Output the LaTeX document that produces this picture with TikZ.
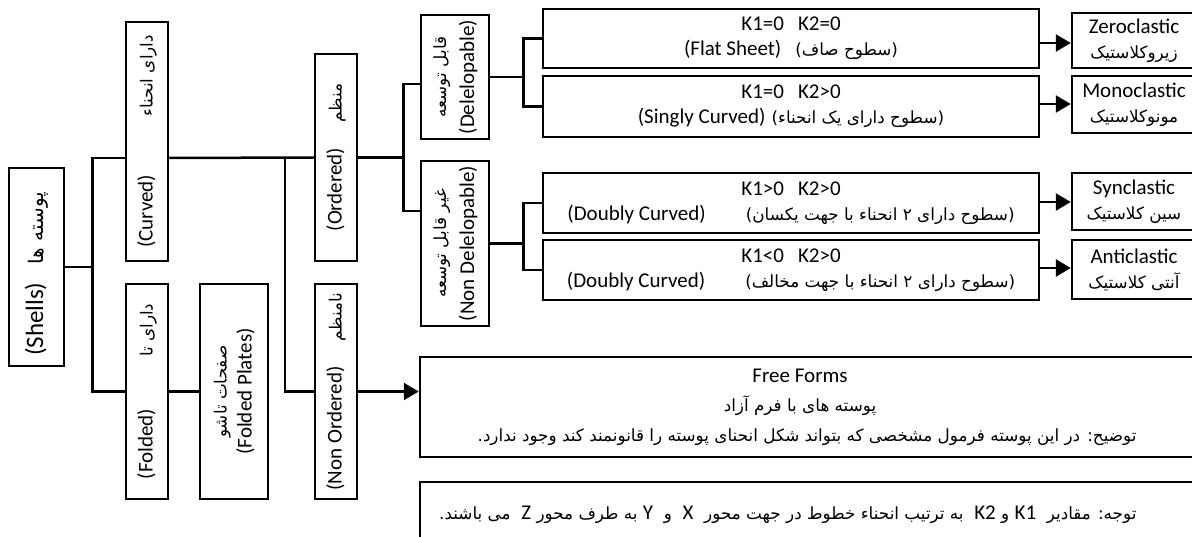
\documentclass[tikz,border=0pt]{standalone}
\usepackage{fontspec}
\setmainfont{Carlito}
\newfontfamily\persianfont[Script=Arabic,Scale=0.8]{DejaVu Sans}
\TeXXeTstate=1
\usetikzlibrary{arrows.meta}
\newcommand{\fa}[1]{{\persianfont\beginR #1\endR}}
\newcommand{\lr}[1]{{\rmfamily\beginL #1\endL}}
\tikzset{
  box/.style={draw, line width=2.5pt, inner sep=0pt, align=center},
  link/.style={line width=2.5pt},
  arr/.style={line width=2.5pt, -{Triangle[length=15pt,width=17pt]}},
}

\begin{document}
\begin{tikzpicture}[x=1pt, y=-1pt, font=\fontsize{21}{25}\selectfont]
	\useasboundingbox (0,0) rectangle (1192,537);
	\fill[white] (0,0) rectangle (1192,537);
	\clip (0,0) rectangle (1192,537);

	\node[box, minimum width=55, minimum height=198, font=\fontsize{25}{28}\selectfont] (shells) at (36.5,267) {\rotatebox{90}{(Shells)\hspace{18pt}\fa{پوسته ها}\hspace{14pt}}};
	\node[box, minimum width=42, minimum height=239] (curved) at (147,141.5) {\rotatebox{90}{(Curved)\hspace{58pt}\fa{دارای انحناء}}};
	\node[box, minimum width=42, minimum height=215] (folded) at (147,391.5) {\rotatebox{90}{(Folded)\hspace{52pt}\fa{دارای تا}}};
	\node[box, minimum width=68, minimum height=215] (plates) at (234,391.5) {\rotatebox{90}{\begin{tabular}{@{}c@{}}\fa{صفحات تاشو}\\(Folded Plates)\end{tabular}}};
	\node[box, minimum width=42, minimum height=207] (ordered) at (336,157.5) {\rotatebox{90}{(Ordered)\hspace{25pt}\fa{منظم}}};
	\node[box, minimum width=42, minimum height=215] (nonord) at (336,391.5) {\rotatebox{90}{(Non Ordered)\hspace{25pt}\fa{نامنظم}}};
	\node[box, minimum width=68, minimum height=124] (devel) at (455,77) {\rotatebox{90}{\begin{tabular}{@{}c@{}}\fa{قابل توسعه}\\[3pt](Delelopable)\end{tabular}}};
	\node[box, minimum width=68, minimum height=165] (nondev) at (455,243.5) {\rotatebox{90}{\begin{tabular}{@{}c@{}}\fa{غیر قابل توسعه}\\[3pt](Non Delelopable)\end{tabular}}};

	\node[box, minimum width=496, minimum height=59] (flat) at (791,38.5) {K1=0\hspace{14pt}K2=0\\(Flat Sheet)\hspace{14pt}\fa{(سطوح صاف)}};
	\node[box, minimum width=496, minimum height=61] (singly) at (791,106.5) {K1=0\hspace{14pt}K2>0\\(Singly Curved)\hspace{6pt}\fa{(سطوح دارای یک انحناء)}};
	\node[box, minimum width=496, minimum height=60] (syn) at (791,203) {K1>0\hspace{14pt}K2>0\\(Doubly Curved)\hspace{40pt}\fa{(سطوح دارای ۲ انحناء با جهت یکسان)}};
	\node[box, minimum width=496, minimum height=60] (anti) at (791,270) {K1<0\hspace{14pt}K2>0\\(Doubly Curved)\hspace{40pt}\fa{(سطوح دارای ۲ انحناء با جهت مخالف)}};

	\node[box, minimum width=124, minimum height=55] (zero) at (1134,40.5) {Zeroclastic\\ \fa{زیروکلاستیک}};
	\node[box, minimum width=124, minimum height=57] (mono) at (1134,104.5) {Monoclastic\\ \fa{مونوکلاستیک}};
	\node[box, minimum width=124, minimum height=57] (synres) at (1134,201.5) {Synclastic\\ \fa{سین کلاستیک}};
	\node[box, minimum width=124, minimum height=59] (antires) at (1134,269.5) {Anticlastic\\ \fa{آنتی کلاستیک}};

	\node[box, minimum width=780, minimum height=100] (free) at (810,407) {};
	\node (freetitle) at (800,376) {Free Forms};
	\node (freesub) at (800,406) {\fa{پوسته های با فرم آزاد}};
	\node[anchor=east] (freenote) at (1140,437) {\fa{توضیح: در این پوسته فرمول مشخصی که بتواند شکل انحنای پوسته را قانونمند کند وجود ندارد.}};
	\node[box, minimum width=780, minimum height=80] (note) at (810,522) {};
	\node[anchor=east] (notetext) at (1140,515) {\fa{توجه: مقادیر\ \ \lr{K1} و \lr{K2}\ \ به ترتیب انحناء خطوط در جهت محور\ \ \lr{X}\ \ و\ \ \lr{Y} به طرف محور \lr{Z}\ \ می باشند.}};

	\draw[link] (shells.east) -- ++(27,0) coordinate (sj);
	\draw[link] (curved.west |- 0,158) -| (sj) |- (folded.west);
	\draw[link] (curved.east |- 0,158) -- (ordered.west);
	\draw[link] (ordered.west) ++(-29,0) |- (nonord.west);
	\draw[link] (folded.east) -- (plates.west);
	\draw[link] (ordered.east) -- ++(45,0) coordinate (oj);
	\draw[link] (devel.west |- 0,84) -| (oj) |- (nondev.west |- 0,211);
	\draw[link] (devel.east) -- ++(33,0) coordinate (dj);
	\draw[link] (flat.west) -| (dj) |- (singly.west);
	\draw[link] (nondev.east) -- ++(33,0) coordinate (nj);
	\draw[link] (syn.west) -| (nj) |- (anti.west);

	\draw[arr] (flat.east |- 0,43) -- (zero.west |- 0,43);
	\draw[arr] (singly.east |- 0,104) -- (mono.west |- 0,104);
	\draw[arr] (syn.east |- 0,202) -- (synres.west |- 0,202);
	\draw[arr] (anti.east |- 0,268) -- (antires.west |- 0,268);
	\draw[arr] (nonord.east) -- (nonord.east -| free.west);
\end{tikzpicture}
\end{document}
